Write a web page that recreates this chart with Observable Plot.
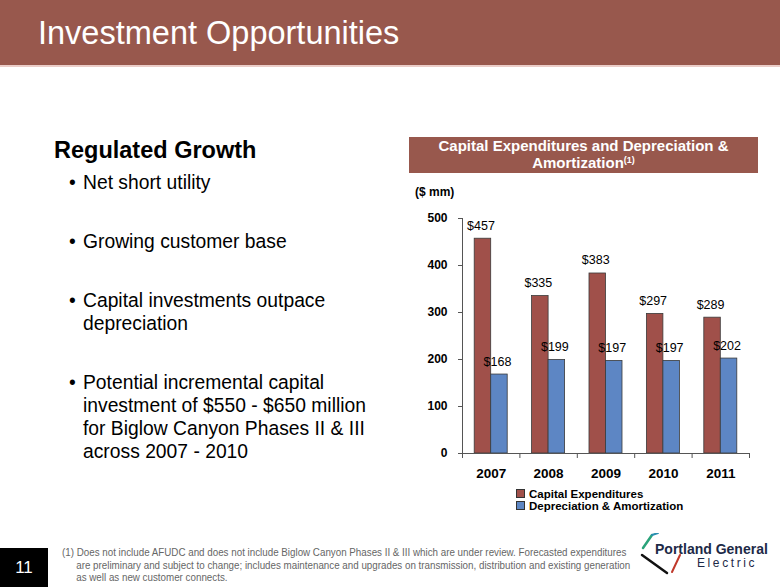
<!DOCTYPE html>
<html>
<head>
<meta charset="utf-8">
<script src="https://cdn.jsdelivr.net/npm/d3@7"></script>
<script src="https://cdn.jsdelivr.net/npm/@observablehq/plot@0.6"></script>
<style>
  html, body { margin: 0; padding: 0; background: #fff; }
  #slide { position: relative; width: 780px; height: 587px; overflow: hidden; background: #fff; font-family: "Liberation Sans", Arial, sans-serif; }
  .abs { position: absolute; white-space: nowrap; }
  #header { left: 0; top: 0; width: 780px; height: 65px; background: #98584D; }
  #headerline { left: 0; top: 65px; width: 780px; height: 2px; background: #EBCDC8; }
  #title { left: 38px; top: 14px; font-size: 33px; color: #fff; line-height: 38px; transform: scaleX(0.985); transform-origin: left center; }
  #lefthead { left: 54px; top: 137px; font-size: 23.5px; font-weight: bold; color: #000; line-height: 27px; }
  .bullet { position: absolute; left: 69px; font-size: 19.3px; line-height: 23px; color: #000; }
  .bullet span.dot { position: absolute; left: 0; }
  .bullet div.txt { margin-left: 14px; white-space: nowrap; }
  #charttitle { left: 409px; top: 137px; width: 349px; height: 36px; background: #98584D; color: #fff; font-weight: bold; font-size: 15px; line-height: 16.5px; text-align: center; padding-top: 1px; box-sizing: border-box; }
  #charttitle sup { font-size: 9px; vertical-align: 5px; line-height: 0; }
  #unit { left: 415px; top: 185px; font-size: 12px; font-weight: bold; color: #000; }
  #plot { left: 400px; top: 200px; }
  #legend { left: 516px; top: 488px; font-size: 11.5px; font-weight: bold; color: #000; line-height: 12px; }
  #legend .sw { display: inline-block; width: 7px; height: 7px; border: 0.75px solid #333; margin-right: 4px; vertical-align: 0px; }
  #pagebox { left: 0; top: 548px; width: 48px; height: 39px; background: #000; color: #fff; font-size: 17px; text-align: center; line-height: 39px; }
  #foot { left: 62px; top: 546px; font-size: 11px; color: #666; line-height: 12.5px; transform: scaleX(0.89); transform-origin: left top; }
  #foot div.ind { padding-left: 16px; }
  #logo1 { left: 655px; top: 541px; font-size: 14px; font-weight: bold; color: #1d2a47; }
  #logo2 { left: 697px; top: 556px; font-size: 12px; color: #1d2a47; letter-spacing: 2.6px; }
  #logosvg { left: 636px; top: 533px; }
</style>
</head>
<body>
<div id="slide">
  <div id="header" class="abs"></div>
  <div id="headerline" class="abs"></div>
  <div id="title" class="abs">Investment Opportunities</div>

  <div id="lefthead" class="abs">Regulated Growth</div>
  <div class="bullet" style="top:171px"><span class="dot">•</span><div class="txt">Net short utility</div></div>
  <div class="bullet" style="top:230px"><span class="dot">•</span><div class="txt">Growing customer base</div></div>
  <div class="bullet" style="top:289px"><span class="dot">•</span><div class="txt">Capital investments outpace<br>depreciation</div></div>
  <div class="bullet" style="top:371px"><span class="dot">•</span><div class="txt">Potential incremental capital<br>investment of $550 - $650 million<br>for Biglow Canyon Phases II &amp; III<br>across 2007 - 2010</div></div>

  <div id="charttitle" class="abs">Capital Expenditures and Depreciation &amp;<br>Amortization<sup>(1)</sup></div>
  <div id="unit" class="abs">($ mm)</div>
  <div id="plot" class="abs"></div>
  <div id="legend" class="abs"></div>

  <div id="pagebox" class="abs">11</div>
  <div id="foot" class="abs">
    <div>(1) Does not include AFUDC and does not include Biglow Canyon Phases II &amp; III which are under review. Forecasted expenditures</div>
    <div class="ind">are preliminary and subject to change; includes maintenance and upgrades on transmission, distribution and existing generation</div>
    <div class="ind">as well as new customer connects.</div>
  </div>
  <svg id="logosvg" class="abs" width="50" height="45" viewBox="0 0 50 45">
    <line x1="7" y1="15" x2="16" y2="2" stroke="#2aa37a" stroke-width="2.5" stroke-linecap="round"/>
    <line x1="16" y1="2" x2="22" y2="0" stroke="#2a8fb0" stroke-width="2" stroke-linecap="round"/>
    <line x1="6" y1="22" x2="31" y2="40" stroke="#111" stroke-width="2.5" stroke-linecap="round"/>
    <line x1="36" y1="39" x2="44" y2="22" stroke="#c0392b" stroke-width="2" stroke-linecap="round"/>
  </svg>
  <div id="logo1" class="abs">Portland General</div>
  <div id="logo2" class="abs">Electric</div>
</div>

<script>
// ---- data ----
const years = ["2007", "2008", "2009", "2010", "2011"];
const capex = [457, 335, 383, 297, 289];
const depAmort = [168, 199, 197, 197, 202];
const seriesNames = ["Capital Expenditures", "Depreciation & Amortization"];
const seriesColors = ["#A0504A", "#5D86C4"];
const yTicks = [0, 100, 200, 300, 400, 500];

// ---- table for Plot ----
const rows = years.flatMap((year, i) => [
  { i, year, series: seriesNames[0], value: capex[i], k: 0 },
  { i, year, series: seriesNames[1], value: depAmort[i], k: 1 }
]);
const half = 0.2875; // half group width as a fraction of each year's slot
const x1 = d => d.i + 0.5 - half + d.k * half;
const x2 = d => d.i + 0.5 + d.k * half;

const chart = Plot.plot({
  width: 370,
  height: 320,
  marginLeft: 62,
  marginRight: 21,
  marginTop: 18,
  marginBottom: 67,
  style: { fontFamily: "Liberation Sans, Arial, sans-serif", background: "transparent", overflow: "visible", color: "#000" },
  x: { domain: [0, years.length], label: null, axis: null },
  y: { domain: [0, 500], label: null, axis: null },
  color: { domain: seriesNames, range: seriesColors },
  marks: [
    Plot.rectY(rows, { x1, x2, y: "value", fill: "series", stroke: "#3a3a3a", strokeWidth: 0.8 }),
    Plot.ruleX([0], { y1: 0, y2: 500, stroke: "#555" }),
    Plot.ruleY([0], { x1: 0, x2: years.length, stroke: "#555" }),
    Plot.axisY({ ticks: yTicks, tickSize: 4, tickPadding: 11, fontSize: 12, fontWeight: "bold", stroke: "#555", label: null, tickFormat: d => String(d) }),
    Plot.axisX({ ticks: d3.range(years.length + 1), tickSize: 5, stroke: "#555", tickFormat: () => "", label: null }),
    Plot.axisX({ ticks: years.map((_, i) => i + 0.5), tickSize: 0, tickPadding: 15, fontSize: 13.5, fontWeight: "bold", tickFormat: d => years[Math.floor(d)], label: null }),
    Plot.text(rows, { x: d => (x1(d) + x2(d)) / 2, y: "value", text: d => "$" + d.value, dy: -13, dx: -2, fontSize: 12.5, fill: "#000" })
  ]
});
document.getElementById("plot").appendChild(chart);

// ---- legend ----
const legend = document.getElementById("legend");
seriesNames.forEach((name, j) => {
  const row = document.createElement("div");
  const sw = document.createElement("span");
  sw.className = "sw";
  sw.style.background = seriesColors[j];
  row.appendChild(sw);
  row.appendChild(document.createTextNode(name));
  legend.appendChild(row);
});
</script>
</body>
</html>
